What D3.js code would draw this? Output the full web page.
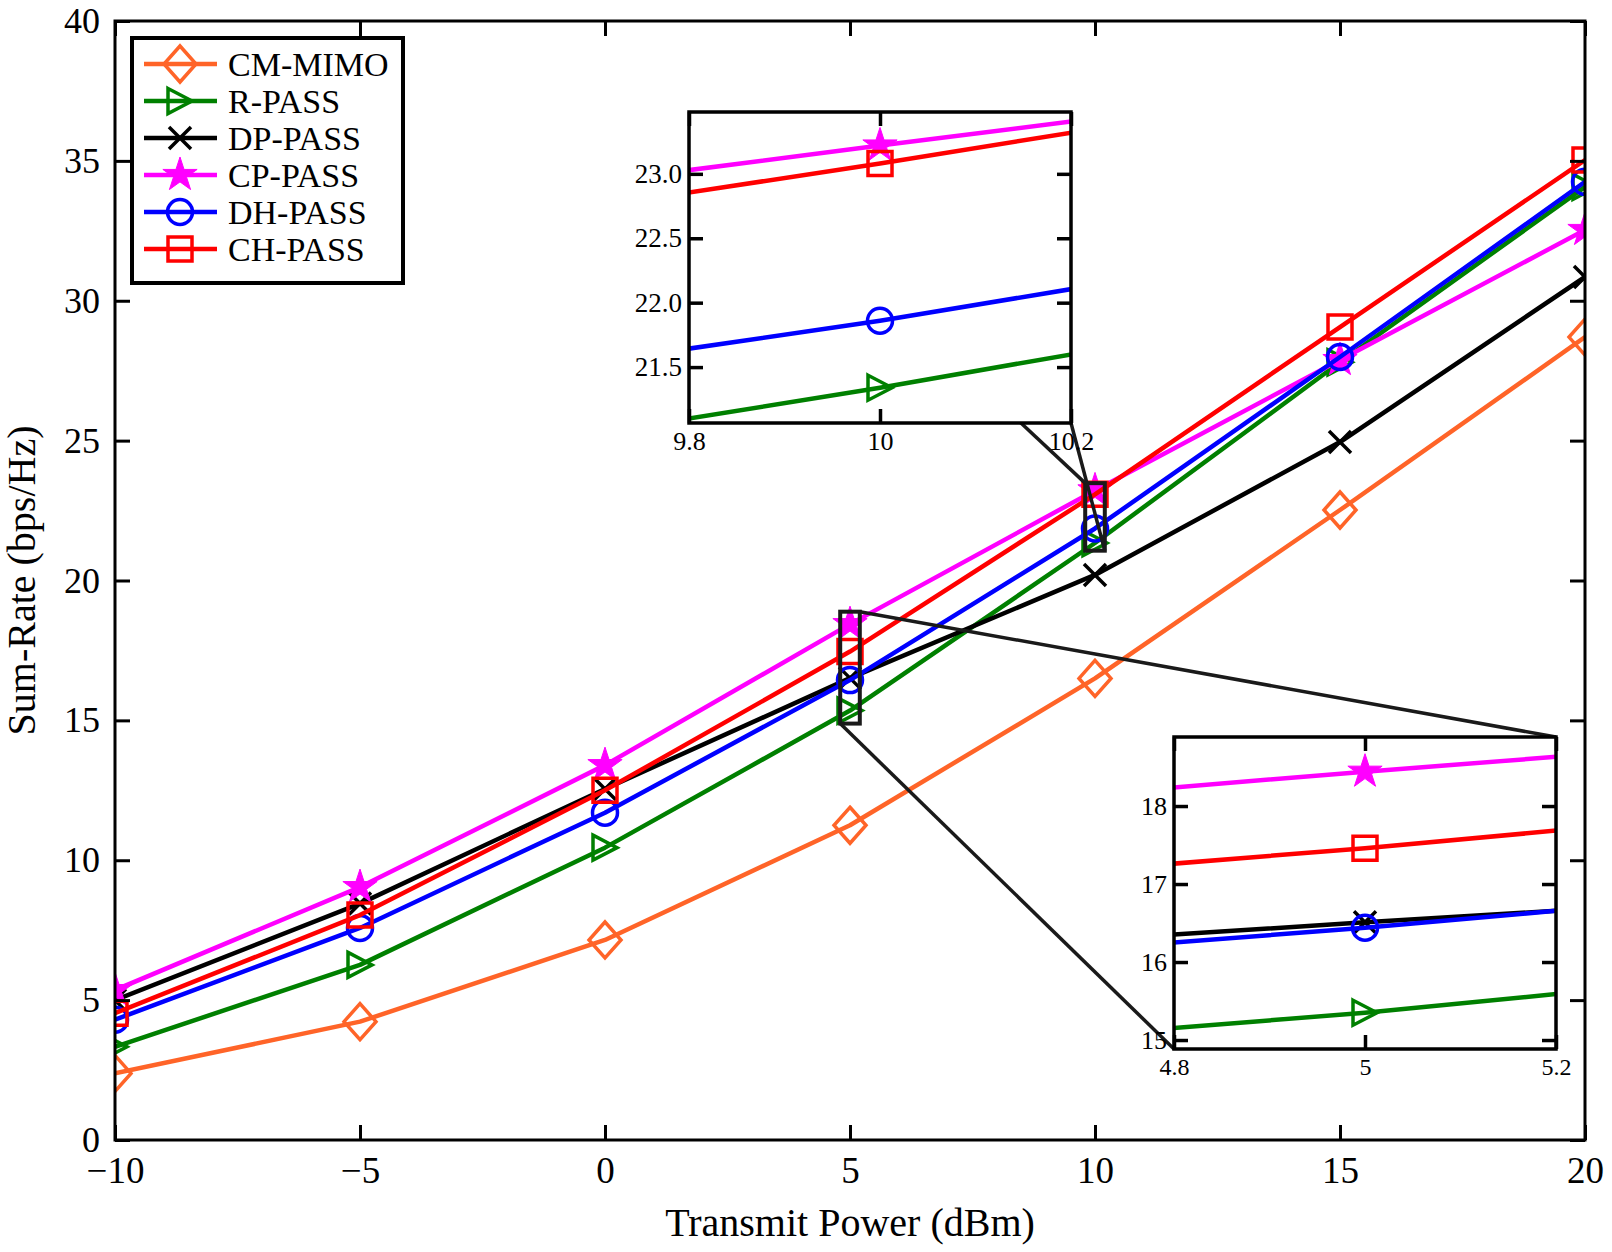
<!DOCTYPE html>
<html>
<head>
<meta charset="utf-8">
<script src="https://cdn.jsdelivr.net/npm/d3@7/dist/d3.min.js"></script>
<style>
body { margin: 0; background: #fff; }
text { font-family: "Liberation Serif", "Times New Roman", serif; fill: #000; }
</style>
</head>
<body>
<svg id="chart" width="1612" height="1252"></svg>
<script>
// data
var powerLevels = [-10, -5, 0, 5, 10, 15, 20];        // Transmit Power (dBm)
var seriesNames = ["CM-MIMO", "R-PASS", "DP-PASS", "CP-PASS", "DH-PASS", "CH-PASS"];
var cmMimo = [2.38, 4.23, 7.15, 11.25, 16.5, 22.52, 28.7];
var rPass  = [3.33, 6.26, 10.45, 15.35, 21.34, 27.8, 34.07];
var dpPass = [5.0, 8.45, 12.55, 16.51, 20.2, 24.95, 30.85];
var cpPass = [5.36, 9.04, 13.4, 18.44, 23.22, 27.88, 32.53];
var dhPass = [4.3, 7.58, 11.7, 16.44, 21.86, 27.99, 34.25];
var chPass = [4.53, 8.04, 12.5, 17.46, 23.08, 29.06, 35.03];
var allSeries = [cmMimo, rPass, dpPass, cpPass, dhPass, chPass];

var mainXTicks = [-10, -5, 0, 5, 10, 15, 20];
var mainYTicks = [0, 5, 10, 15, 20, 25, 30, 35, 40];

// zoomed windows
var zoomA_x = [9.8, 10.2];
var zoomA_y = [21.066, 23.48];
var zoomA_xTicks = [9.8, 10, 10.2];
var zoomA_yTicks = [21.5, 22.0, 22.5, 23.0];

var zoomB_x = [4.8, 5.2];
var zoomB_y = [14.885, 18.885];
var zoomB_xTicks = [4.8, 5, 5.2];
var zoomB_yTicks = [15, 16, 17, 18];

var SERIF = "Liberation Serif, Times New Roman, serif";

// styling per series (same order as seriesNames)
var seriesStyle = [
    {color: "#FF6428", marker: "diamond"},
    {color: "#008000", marker: "triangle"},
    {color: "#000000", marker: "cross"},
    {color: "#FF00FF", marker: "star"},
    {color: "#0000FF", marker: "circle"},
    {color: "#FF0000", marker: "square"}
];

function markerPath(type) {
    if (type == "diamond") return "M0,-18L16,0L0,18L-16,0Z";
    if (type == "triangle") return "M-12,-12.5L12,0L-12,12.5Z";
    if (type == "cross") return "M-11,-11L11,11M-11,11L11,-11";
    if (type == "star") return d3.symbol(d3.symbolStar, 364)();
    if (type == "circle") return "M12.5,0A12.5,12.5 0 1,1 -12.5,0A12.5,12.5 0 1,1 12.5,0Z";
    return "M-12,-12H12V12H-12Z";
}

function addMarker(g, style, x, y) {
    g.append('path')
        .attr('d', markerPath(style.marker))
        .attr('transform', 'translate(' + [x, y] + ')')
        .attr('fill', style.marker == "star" ? style.color : "none")
        .attr('stroke', style.color)
        .attr('stroke-width', style.marker == "star" ? 1 : 3.5);
}

function drawSeries(g, xs, ys) {
    for (var i = 0; i < allSeries.length; i++) {
        var pts = powerLevels.map(function(p, k) { return [p, allSeries[i][k]]; });
        var line = d3.line()
            .x(function(d) { return xs(d[0]); })
            .y(function(d) { return ys(d[1]); });
        g.append('path')
            .attr('d', line(pts))
            .attr('fill', 'none')
            .attr('stroke', seriesStyle[i].color)
            .attr('stroke-width', 4.5)
            .attr('stroke-linejoin', 'round');
        for (var k = 0; k < pts.length; k++) {
            addMarker(g, seriesStyle[i], xs(pts[k][0]), ys(pts[k][1]));
        }
    }
}

// box with inward ticks on all four sides
function drawAxes(g, xs, ys, opt) {
    var w = xs.range()[1], h = ys.range()[0];

    var bottom = g.append('g')
        .attr('transform', 'translate(0,' + h + ')')
        .call(d3.axisBottom(xs).tickValues(opt.xTicks).tickFormat(opt.xFmt)
              .tickSizeInner(-opt.tick).tickSizeOuter(0).tickPadding(opt.padX));
    bottom.selectAll('text').attr('font-size', opt.xFont);

    var left = g.append('g')
        .call(d3.axisLeft(ys).tickValues(opt.yTicks).tickFormat(opt.yFmt)
              .tickSizeInner(-opt.tick).tickSizeOuter(0).tickPadding(opt.padY));
    left.selectAll('text').attr('font-size', opt.yFont);

    g.append('g')
        .call(d3.axisTop(xs).tickValues(opt.xTicks).tickFormat('')
              .tickSizeInner(-opt.tick).tickSizeOuter(0));
    g.append('g')
        .attr('transform', 'translate(' + w + ',0)')
        .call(d3.axisRight(ys).tickValues(opt.yTicks).tickFormat('')
              .tickSizeInner(-opt.tick).tickSizeOuter(0));

    g.selectAll('.domain').remove();
    g.selectAll('.tick line').attr('stroke', '#000').attr('stroke-width', opt.stroke);
    g.selectAll('.tick').select(function() { return this.parentNode; })
        .attr('font-family', SERIF);
    g.selectAll('.tick text')
        .attr('fill', '#000')
        .attr('font-family', SERIF)
        .style('font-family', SERIF);

    g.append('rect')
        .attr('width', w)
        .attr('height', h)
        .attr('fill', 'none')
        .attr('stroke', '#000')
        .attr('stroke-width', opt.stroke);
}


var svg = d3.select('#chart');
svg.append('rect').attr('width', 1612).attr('height', 1252).attr('fill', '#fff');

var defs = svg.append('defs');

/**************************************************/
// main plot
var plot = {l: 115, t: 21, r: 1585, b: 1140};
var xScale = d3.scaleLinear().domain([-10, 20]).range([0, plot.r - plot.l]);
var yScale = d3.scaleLinear().domain([0, 40]).range([plot.b - plot.t, 0]);

defs.append('clipPath').attr('id', 'clipMain')
    .append('rect').attr('width', plot.r - plot.l).attr('height', plot.b - plot.t);

var mainG = svg.append('g').attr('transform', 'translate(' + [plot.l, plot.t] + ')');
drawSeries(mainG.append('g').attr('clip-path', 'url(#clipMain)'), xScale, yScale);

drawAxes(mainG, xScale, yScale, {
    xTicks: mainXTicks, yTicks: mainYTicks,
    xFmt: d3.format('d'), yFmt: d3.format('d'),
    tick: 15, padX: 17, padY: 15, xFont: 37, yFont: 36, stroke: 3
});

svg.append('text')
    .attr('x', (plot.l + plot.r) / 2)
    .attr('y', 1236)
    .attr('text-anchor', 'middle')
    .attr('font-family', SERIF)
    .attr('font-size', 40)
    .text('Transmit Power (dBm)');

svg.append('text')
    .attr('transform', 'translate(35,' + (plot.t + plot.b) / 2 + ') rotate(-90)')
    .attr('text-anchor', 'middle')
    .attr('font-family', SERIF)
    .attr('font-size', 40)
    .text('Sum-Rate (bps/Hz)');

/**************************************************/
// zoom boxes and insets
var insets = [
    {id: 'A', xd: zoomA_x, yd: zoomA_y, xt: zoomA_xTicks, yt: zoomA_yTicks,
     yFmt: d3.format('.1f'), box: {l: 689, t: 112, w: 382, h: 311},
     xFont: 26, yFont: 27, corners: [['l', 't'], ['r', 'b']]},
    {id: 'B', xd: zoomB_x, yd: zoomB_y, xt: zoomB_xTicks, yt: zoomB_yTicks,
     yFmt: d3.format('d'), box: {l: 1174, t: 737, w: 382, h: 312},
     xFont: 24, yFont: 26, corners: [['r', 't'], ['l', 'b']]}
];

insets.forEach(function(ins) {
    // rectangle on the main plot
    var rl = plot.l + xScale(ins.xd[0]), rr = plot.l + xScale(ins.xd[1]);
    var rt = plot.t + yScale(ins.yd[1]), rb = plot.t + yScale(ins.yd[0]);
    svg.append('rect')
        .attr('x', rl).attr('y', rt)
        .attr('width', rr - rl).attr('height', rb - rt)
        .attr('fill', 'none')
        .attr('stroke', '#1a1a1a')
        .attr('stroke-width', 4);

    var rc = {l: rl, r: rr, t: rt, b: rb};
    var bc = {l: ins.box.l, r: ins.box.l + ins.box.w, t: ins.box.t, b: ins.box.t + ins.box.h};
    ins.corners.forEach(function(c) {
        svg.append('line')
            .attr('x1', rc[c[0]]).attr('y1', rc[c[1]])
            .attr('x2', bc[c[0]]).attr('y2', bc[c[1]])
            .attr('stroke', '#1a1a1a')
            .attr('stroke-width', 3.5);
    });
});

insets.forEach(function(ins) {
    var xs = d3.scaleLinear().domain(ins.xd).range([0, ins.box.w]);
    var ys = d3.scaleLinear().domain(ins.yd).range([ins.box.h, 0]);
    var g = svg.append('g').attr('transform', 'translate(' + [ins.box.l, ins.box.t] + ')');

    g.append('rect').attr('width', ins.box.w).attr('height', ins.box.h).attr('fill', '#fff');

    defs.append('clipPath').attr('id', 'clip' + ins.id)
        .append('rect').attr('width', ins.box.w).attr('height', ins.box.h);

    drawSeries(g.append('g').attr('clip-path', 'url(#clip' + ins.id + ')'), xs, ys);

    drawAxes(g, xs, ys, {
        xTicks: ins.xt, yTicks: ins.yt,
        xFmt: d3.format('~g'), yFmt: ins.yFmt,
        tick: 14, padX: 9, padY: 7, xFont: ins.xFont, yFont: ins.yFont, stroke: 3.5
    });
});

/**************************************************/
// legend
var legendG = svg.append('g').attr('transform', 'translate(132,38)');
legendG.append('rect')
    .attr('width', 271)
    .attr('height', 245)
    .attr('fill', '#fff')
    .attr('stroke', '#000')
    .attr('stroke-width', 4);

for (var i = 0; i < seriesNames.length; i++) {
    var ly = 26 + i * 37;
    legendG.append('line')
        .attr('x1', 12).attr('x2', 85)
        .attr('y1', ly).attr('y2', ly)
        .attr('stroke', seriesStyle[i].color)
        .attr('stroke-width', 4.5);
    addMarker(legendG, seriesStyle[i], 48, ly);
    legendG.append('text')
        .attr('x', 96)
        .attr('y', ly + 12)
        .attr('font-family', SERIF)
        .attr('font-size', 34)
        .text(seriesNames[i]);
}
</script>
</body>
</html>
